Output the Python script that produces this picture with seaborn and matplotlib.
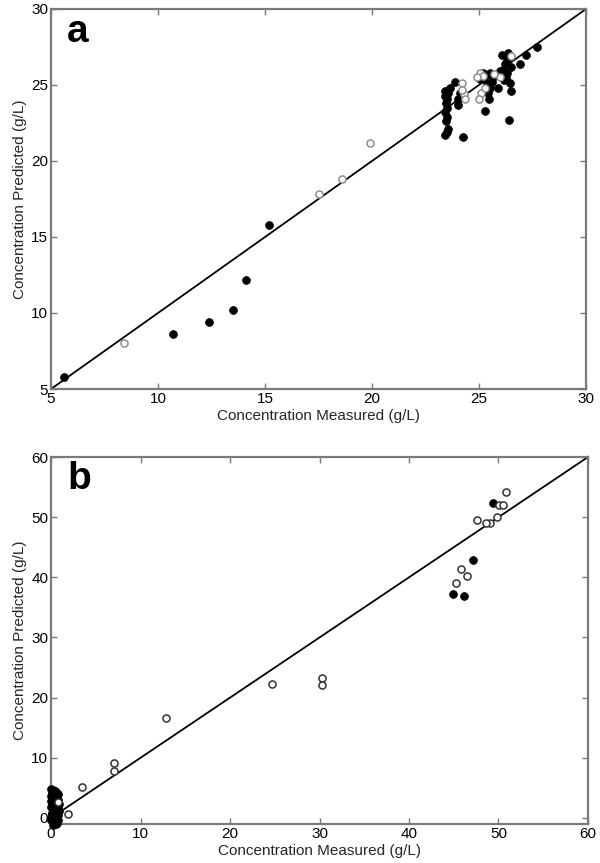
import matplotlib
matplotlib.use("Agg")
import matplotlib.pyplot as plt
import seaborn as sns
import pandas as pd

# ---------------- data ----------------
# Panel a: filled (black) points
a_fill_meas = [5.6, 10.7, 12.4, 13.5, 14.1, 15.2,
               23.4, 23.5, 23.55, 23.45, 23.5, 23.4, 23.5, 23.45, 23.5, 23.55, 23.65, 23.4, 23.4,
               23.9, 24.0, 24.0, 24.27, 24.1,
               25.05, 25.2, 25.36, 25.5, 25.4, 25.3, 25.67, 25.5, 25.9, 25.3, 25.6, 25.45,
               26.06, 26.37, 26.2, 26.5, 26.3, 26.45, 26.5, 26.4, 26.1, 26.25, 26.0, 26.3, 26.15,
               26.9, 27.2, 27.7]
a_fill_pred = [5.8, 8.6, 9.4, 10.2, 12.2, 15.8,
               21.7, 21.9, 22.1, 22.6, 22.9, 23.2, 23.5, 23.8, 24.1, 24.45, 24.8, 24.6, 24.3,
               25.2, 24.1, 23.7, 21.6, 24.5,
               25.4, 25.8, 25.1, 24.8, 24.45, 23.3, 25.5, 25.8, 24.8, 25.6, 25.2, 24.1,
               26.97, 27.1, 26.4, 26.2, 25.8, 25.1, 24.6, 22.7, 26.0, 25.5, 25.9, 26.7, 25.3,
               26.4, 27.0, 27.5]
# Panel a: open (grey) points
a_open_meas = [8.4, 17.5, 18.6, 19.9, 24.2, 24.3, 24.35, 24.2, 25.05, 25.1, 25.0, 26.0, 26.5, 25.2, 24.9, 25.7, 25.3]
a_open_pred = [8.0, 17.8, 18.8, 21.2, 25.1, 24.4, 24.1, 24.7, 25.8, 24.45, 24.1, 25.5, 26.9, 25.6, 25.5, 25.7, 24.8]

# Panel b: filled (black) points
b_fill_meas = [49.35, 47.2, 44.95, 46.1,
               0.0, 0.1, 0.0, 0.2, 0.1, 0.0, 0.2, 0.1, 0.0, 0.2, 0.4, 0.5, 0.6, 0.5, 0.4, 0.6,
               0.5, 0.4, 0.6, 0.8, 0.8, 0.8, 0.8, 0.3, 0.7, 0.3, 0.3, 0.3,
               0.1, 0.3, 0.5, 0.7, 0.1, 0.3, 0.5, 0.7, 0.1, 0.3, 0.5, 0.7, 0.2, 0.6, 0.9, 0.9,
               0.0, 0.2, 0.4, 0.6, 0.8, 0.0, 0.4]
b_fill_pred = [52.4, 42.9, 37.2, 36.9,
               4.8, 4.2, 3.6, 3.0, 2.4, 1.8, 1.2, 0.6, 0.0, -0.5, 4.5, 3.8, 3.2, 2.6, 2.0, 1.4,
               0.8, 0.2, -0.4, 4.0, 3.0, 1.8, 0.5, -0.8, -0.8, 2.7, 1.5, 0.3,
               3.3, 3.9, 4.2, 3.5, 2.1, 2.2, 1.7, 2.4, 0.9, 1.0, 0.4, 1.1, 4.6, 4.4, 2.3, 1.2,
               -0.3, -1.1, -0.9, -1.0, -0.4, 2.9, 1.0]
# Panel b: open points
b_open_meas = [50.8, 50.1, 50.5, 49.8, 49.05, 48.6, 47.6, 45.8, 46.5, 45.3,
               24.7, 30.3, 30.3, 12.9, 7.07, 7.07, 3.5, 1.9, 0.8]
b_open_pred = [54.2, 52.1, 52.0, 50.05, 49.1, 48.95, 49.5, 41.4, 40.2, 39.1,
               22.2, 23.2, 22.1, 16.7, 9.2, 7.8, 5.1, 0.7, 2.6]

# identity lines
line_a = [5, 30]
line_b = [1, 60]

a_ticks = [5, 10, 15, 20, 25, 30]
b_ticks = [0, 10, 20, 30, 40, 50, 60]

xlabel = "Concentration Measured (g/L)"
ylabel = "Concentration Predicted (g/L)"

# ---------------- style ----------------
sns.set_theme(style="white")
plt.rcParams["font.family"] = ["Liberation Sans", "DejaVu Sans"]

fig = plt.figure(figsize=(6.0, 8.63), dpi=100)
ax_a = fig.add_axes([51 / 600, 1 - 389 / 863, 535 / 600, 380 / 863])
ax_b = fig.add_axes([51 / 600, 1 - 824 / 863, 537 / 600, 367 / 863])

spine_col = "#7a7a7a"


def panel(ax, fm, fp, om, op, line, ticks, lims, open_edge, letter):
    sns.lineplot(x=line, y=line, ax=ax, color="black", linewidth=1.3, zorder=2)
    sns.scatterplot(x=fm, y=fp, ax=ax, color="black", s=32, edgecolor="black",
                    linewidth=0.5, zorder=3, clip_on=False)
    sns.scatterplot(x=om, y=op, ax=ax, color="white", s=26, edgecolor=open_edge,
                    linewidth=1.1, zorder=4, clip_on=False)
    ax.set_xlim(*lims[0])
    ax.set_ylim(*lims[1])
    ax.set_xticks(ticks)
    ax.set_yticks(ticks)
    ax.set_xticklabels([str(t) for t in ticks])
    ax.set_yticklabels([str(t) for t in ticks])
    ax.tick_params(direction="in", length=4, width=1, color=spine_col,
                   top=True, right=True, bottom=True, left=True,
                   labelsize=11, labelcolor="black", pad=2)
    for s in ax.spines.values():
        s.set_color(spine_col)
        s.set_linewidth(1.6)
    ax.set_xlabel(xlabel, fontsize=11, labelpad=2)
    ax.set_ylabel(ylabel, fontsize=11, labelpad=3)
    ax.text(0.03, 0.94, letter, transform=ax.transAxes, fontsize=28,
            fontweight="bold", ha="left", va="center", color="black")
    ax.grid(False)


panel(ax_a, a_fill_meas, a_fill_pred, a_open_meas, a_open_pred, line_a, a_ticks,
      ((5, 30), (5, 30)), "#8f8f8f", "a")
panel(ax_b, b_fill_meas, b_fill_pred, b_open_meas, b_open_pred, line_b, b_ticks,
      ((0, 60), (-1, 60)), "#333333", "b")

fig.savefig("out.png", dpi=100)
